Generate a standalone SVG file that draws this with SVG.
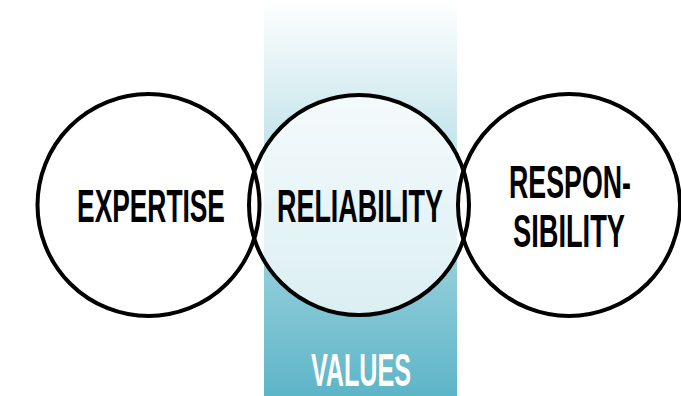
<svg xmlns="http://www.w3.org/2000/svg" width="681" height="396" viewBox="0 0 681 396">
  <defs>
    <linearGradient id="band" x1="0" y1="0" x2="0" y2="1">
      <stop offset="0" stop-color="#ffffff"/>
      <stop offset="1" stop-color="#5db5c8"/>
    </linearGradient>
    <style>
      .ring { fill: none; stroke: #000; stroke-width: 4; }
      .mid { fill: #ffffff; fill-opacity: 0.72; stroke: #000; stroke-width: 4; }
      .lbl { font-family: "Liberation Sans", Arial, sans-serif; font-weight: bold; font-size: 46px; fill: #000; text-anchor: middle; }
      .val { font-family: "Liberation Sans", Arial, sans-serif; font-weight: bold; font-size: 46px; fill: #fff; text-anchor: middle; }
    </style>
  </defs>
  <rect width="681" height="396" fill="#ffffff"/>
  <rect id="values-band" x="264" y="0" width="193" height="396" fill="url(#band)"/>
  <g id="values-label">
    <text class="val" transform="translate(361 386) scale(0.547 1)">VALUES</text>
  </g>
  <g id="reliability">
    <circle class="mid" cx="359" cy="205" r="110"/>
    <text class="lbl" transform="translate(360 222) scale(0.585 1)">RELIABILITY</text>
  </g>
  <g id="expertise">
    <circle class="ring" cx="148.5" cy="205" r="111"/>
    <text class="lbl" transform="translate(151 222) scale(0.573 1)">EXPERTISE</text>
  </g>
  <g id="responsibility">
    <circle class="ring" cx="569" cy="205" r="111"/>
    <text class="lbl" transform="translate(570 198) scale(0.582 1)">RESPON-</text>
    <text class="lbl" transform="translate(569 247) scale(0.592 1)">SIBILITY</text>
  </g>
  <g id="connectors"/>
</svg>
